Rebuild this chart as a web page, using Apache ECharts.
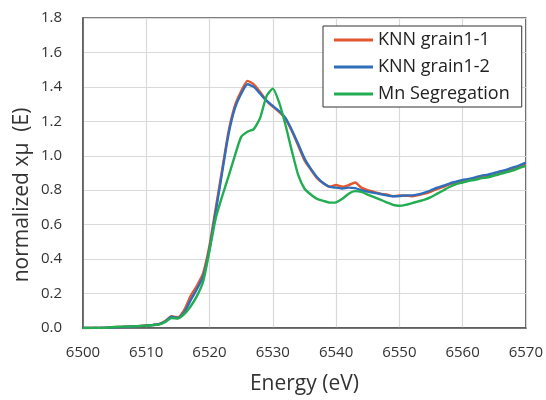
<!DOCTYPE html>
<html>
<head>
<meta charset="utf-8">
<script src="https://cdn.jsdelivr.net/npm/echarts@6/dist/echarts.min.js"></script>
<style>
  html, body { margin: 0; padding: 0; background: #fff; }
  #chart { width: 546px; height: 400px; }
</style>
</head>
<body>
<div id="chart"></div>
<script>
// 能量 (eV)
const energy = [6500, 6501, 6502, 6503, 6504, 6505, 6506, 6507, 6508, 6509,
  6510, 6511, 6512, 6513, 6514, 6515, 6516, 6517, 6518, 6519,
  6520, 6521, 6522, 6523, 6524, 6525, 6526, 6527, 6528, 6529,
  6530, 6531, 6532, 6533, 6534, 6535, 6536, 6537, 6538, 6539,
  6540, 6541, 6542, 6543, 6544, 6545, 6546, 6547, 6548, 6549,
  6550, 6551, 6552, 6553, 6554, 6555, 6556, 6557, 6558, 6559,
  6560, 6561, 6562, 6563, 6564, 6565, 6566, 6567, 6568, 6569, 6570];

const grain11 = [0.000, 0.000, 0.002, 0.000, 0.003, 0.005, 0.006, 0.008, 0.010, 0.012,
  0.015, 0.018, 0.022, 0.040, 0.068, 0.062, 0.105, 0.185, 0.245, 0.320,
  0.480, 0.700, 0.920, 1.140, 1.290, 1.375, 1.435, 1.415, 1.370, 1.320,
  1.285, 1.255, 1.215, 1.145, 1.060, 0.975, 0.920, 0.870, 0.840, 0.820,
  0.830, 0.820, 0.830, 0.845, 0.815, 0.800, 0.790, 0.780, 0.775, 0.765,
  0.770, 0.768, 0.765, 0.772, 0.780, 0.792, 0.808, 0.820, 0.835, 0.845,
  0.850, 0.858, 0.865, 0.875, 0.880, 0.888, 0.898, 0.910, 0.922, 0.938, 0.952];

const grain12 = [0.000, 0.001, 0.000, 0.002, 0.002, 0.004, 0.005, 0.007, 0.009, 0.011,
  0.014, 0.017, 0.022, 0.038, 0.065, 0.058, 0.090, 0.160, 0.225, 0.300,
  0.460, 0.680, 0.905, 1.125, 1.275, 1.360, 1.415, 1.400, 1.360, 1.320,
  1.290, 1.260, 1.220, 1.150, 1.070, 0.985, 0.925, 0.875, 0.840, 0.820,
  0.815, 0.810, 0.815, 0.812, 0.800, 0.792, 0.785, 0.778, 0.770, 0.765,
  0.766, 0.770, 0.770, 0.776, 0.786, 0.800, 0.815, 0.826, 0.840, 0.850,
  0.860, 0.866, 0.875, 0.885, 0.890, 0.900, 0.910, 0.920, 0.932, 0.945, 0.960];

const mnSeg = [0.000, 0.000, 0.001, 0.001, 0.002, 0.006, 0.008, 0.008, 0.010, 0.012,
  0.013, 0.016, 0.020, 0.035, 0.058, 0.055, 0.080, 0.125, 0.185, 0.270,
  0.450, 0.640, 0.765, 0.880, 1.000, 1.110, 1.140, 1.155, 1.220, 1.345,
  1.390, 1.310, 1.180, 1.030, 0.890, 0.810, 0.775, 0.750, 0.738, 0.728,
  0.730, 0.750, 0.780, 0.795, 0.790, 0.775, 0.760, 0.745, 0.730, 0.715,
  0.710, 0.715, 0.725, 0.735, 0.745, 0.760, 0.780, 0.800, 0.820, 0.835,
  0.845, 0.855, 0.860, 0.870, 0.875, 0.885, 0.895, 0.905, 0.915, 0.930, 0.940];

const names = ['KNN grain1-1', 'KNN grain1-2', 'Mn Segregation'];
const colors = ['#E4572E', '#2F6EBA', '#22AD52'];

function pairs(ys) {
  return energy.map((e, i) => [e, ys[i]]);
}

const myChart = echarts.init(document.getElementById('chart'));
const font = 'Open Sans';

const option = {
  animation: false,
  backgroundColor: '#fff',
  grid: {
    left: 83, right: 17, top: 18, bottom: 68,
    show: true, borderColor: '#555', borderWidth: 1.5
  },
  legend: {
    orient: 'vertical',
    left: 323, top: 26,
    padding: [4, 12, 3, 11],
    itemGap: 7,
    itemWidth: 39,
    itemHeight: 3,
    icon: 'rect',
    borderColor: '#333', borderWidth: 1,
    backgroundColor: '#fff',
    data: names,
    textStyle: { fontFamily: font, fontSize: 18, color: '#222', lineHeight: 20 }
  },
  xAxis: {
    type: 'value', min: 6500, max: 6570, interval: 10,
    name: 'Energy (eV)', nameLocation: 'middle', nameGap: 46,
    nameTextStyle: { fontFamily: font, fontSize: 21, color: '#333' },
    axisLine: { show: true, lineStyle: { color: '#555', width: 1.5 } },
    axisTick: { show: false },
    axisLabel: {
      fontFamily: font, fontSize: 15, color: '#333', margin: 17,
      formatter: v => String(v)
    },
    splitLine: { show: true, lineStyle: { color: '#d9d9d9', width: 1.2 } }
  },
  yAxis: {
    type: 'value', min: 0, max: 1.8, interval: 0.2,
    axisLine: { show: true, lineStyle: { color: '#555', width: 1.5 } },
    axisTick: { show: false },
    axisLabel: {
      fontFamily: font, fontSize: 15, color: '#333', margin: 21,
      formatter: v => v.toFixed(1)
    },
    splitLine: { show: true, lineStyle: { color: '#d9d9d9', width: 1.2 } }
  },
  graphic: [{
    type: 'text',
    x: 22, y: 195,
    rotation: Math.PI / 2,
    style: {
      text: 'normalized xμ  (E)',
      fontFamily: font, fontSize: 21, fill: '#333',
      align: 'center', verticalAlign: 'middle'
    }
  }],
  series: [grain11, grain12, mnSeg].map((ys, i) => ({
    name: names[i],
    type: 'line',
    data: pairs(ys),
    symbol: 'none',
    smooth: 0.2,
    lineStyle: { color: colors[i], width: 2.4 },
    itemStyle: { color: colors[i] }
  }))
};

myChart.setOption(option);
</script>
</body>
</html>
